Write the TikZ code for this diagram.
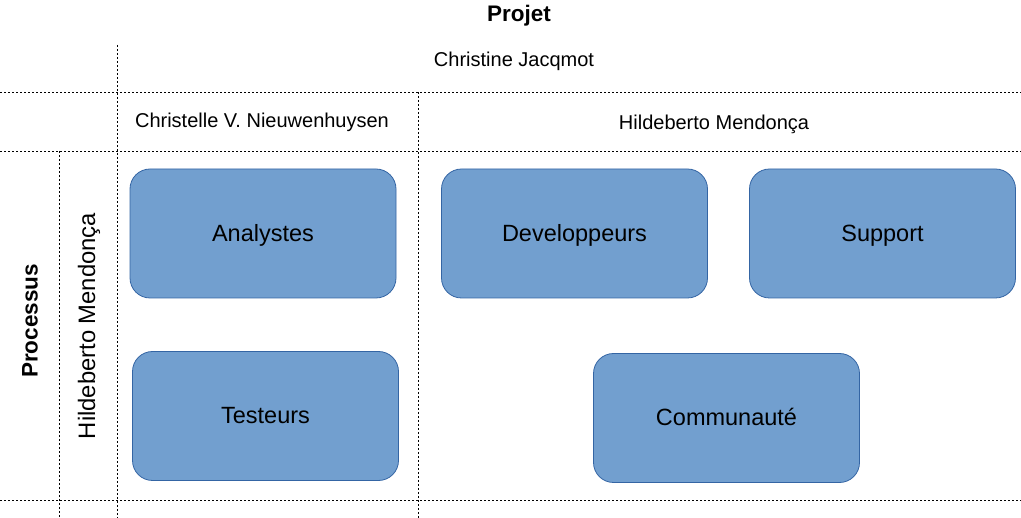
\documentclass[tikz,border=0pt]{standalone}
\usepackage{fontspec}
\setmainfont{Liberation Sans}
\usepackage{tikz}
\usetikzlibrary{positioning,calc}
\definecolor{roleFill}{HTML}{729FCF}
\definecolor{roleLine}{HTML}{3465A4}

\begin{document}
\begin{tikzpicture}[x=1pt,y=-1pt,
    role/.style={draw=roleLine,fill=roleFill,line width=.8pt,rounded corners=20pt,
      minimum width=266pt,minimum height=129pt,inner sep=0pt,
      text height=17pt,text depth=1pt,
      font=\fontsize{23.5}{26}\selectfont},
    sep/.style={dash pattern=on 2pt off 2pt,line width=.8pt},
    who/.style={font=\fontsize{20}{22}\selectfont},
    head/.style={font=\fontsize{22.5}{26}\selectfont\bfseries}]
    \useasboundingbox (0,0) rectangle (1021,518);
    \draw[sep] (0,92) -- (1021,92);
    \draw[sep] (0,151) -- (1021,151);
    \draw[sep] (0,500) -- (1021,500);
    \draw[sep] (117,45) -- (117,518);
    \draw[sep] (418,92) -- (418,518);
    \draw[sep] (59,151) -- (59,518);
    \node[head] (projet) at (519,16) {Projet};
    \node[head,rotate=90] (processus) at (30,321) {Processus};
    \node[who] (chef) at (514,61.5) {Christine Jacqmot};
    \node[who] (ana) at (262,122) {Christelle V. Nieuwenhuysen};
    \node[who] (dev) at (714,124.5) {Hildeberto Mendonça};
    \node[who,rotate=90,font=\fontsize{23.8}{26}\selectfont] (proc) at (89,326) {Hildeberto Mendonça};
    \node[role] (analystes) at (263,233.5) {Analystes};
    \node[role] (developpeurs) at (574.5,233.5) {Developpeurs};
    \node[role] (support) at (882.5,233.5) {Support};
    \node[role] (testeurs) at (265.5,416) {Testeurs};
    \node[role] (communaute) at (726.5,418) {Communauté};
  \end{tikzpicture}
\end{document}
